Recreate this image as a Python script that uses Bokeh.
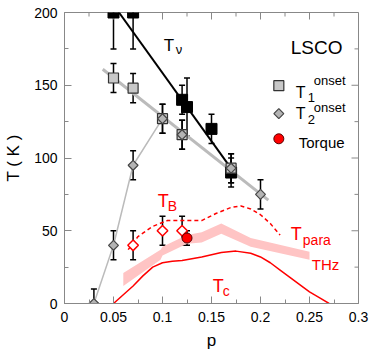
from bokeh.plotting import figure
from bokeh.models import (ColumnDataSource, Whisker, TeeHead, FixedTicker, Label)
from bokeh.embed import file_html
from bokeh.resources import INLINE

# ---- data ----
tnu_p = [0.05, 0.07, 0.12, 0.125, 0.15, 0.17]
tnu_T = [200, 200, 140, 135, 120, 90]
tnu_err = [25, 25, 10, 20, 10, 10]
tnu_fit_p = [0.0556, 0.172]
tnu_fit_T = [200, 91]

t1_p = [0.05, 0.07, 0.10, 0.12, 0.17]
t1_T = [155, 148, 127, 116, 93]
t1_err = [10, 10, 10, 10, 10]
t1_fit_p = [0.039, 0.208]
t1_fit_T = [161, 71]

t2_p = [0.03, 0.05, 0.07, 0.10, 0.12, 0.17, 0.20]
t2_T = [0, 40, 95, 127, 116, 93, 75]
t2_err = [10, 10, 10, 10, 10, 10, 10]
t2_line_p = [0.03, 0.05, 0.07, 0.10]
t2_line_T = [0, 40, 95, 127]

tb_p = [0.07, 0.10, 0.12]
tb_T = [40, 50, 50]
tb_err = [10, 10, 10]

torque_p = [0.125]
torque_T = [45]
torque_err = [5]

tpara_p = [0.065, 0.075, 0.09, 0.105, 0.12, 0.14, 0.155, 0.17, 0.18, 0.19, 0.2, 0.21, 0.22]
tpara_T = [37, 46, 53, 57, 57, 57, 62, 66, 67, 65, 61, 55, 47]

thz_p = [0.06, 0.098, 0.10, 0.125, 0.14, 0.16, 0.19, 0.25]
thz_hi = [21, 37, 39, 47, 49, 55, 45, 35.5]
thz_lo = [12, 30, 33, 41, 42, 48, 39, 30]

tc_p = [0.05, 0.06, 0.07, 0.08, 0.09, 0.10, 0.11, 0.12, 0.14, 0.16, 0.175, 0.19, 0.20, 0.21, 0.22, 0.23, 0.24, 0.25, 0.26, 0.27]
tc_T = [0, 6, 12, 19, 25, 28, 29, 29.5, 32, 35, 36, 34.5, 32, 28, 23, 18, 13, 8, 4, 0]

x_ticks = [0, 0.05, 0.1, 0.15, 0.2, 0.25, 0.3]
x_labels = ["0", "0.05", "0.1", "0.15", "0.2", "0.25", "0.3"]
x_minor = [0.025, 0.075, 0.125, 0.175, 0.225, 0.275]
y_ticks = [0, 50, 100, 150, 200]
y_minor = [25, 75, 125, 175]

FONT = "Liberation Sans"
AX = "#888888"
X0, X1, Y0, Y1 = 0, 0.3, 0, 200

p = figure(width=374, height=359, x_range=(X0, X1), y_range=(Y0, Y1),
           output_backend="svg", toolbar_location=None,
           min_border_left=64, min_border_right=16, min_border_top=12, min_border_bottom=56)
p.xgrid.visible = False
p.ygrid.visible = False
p.outline_line_color = AX
p.background_fill_color = "white"
p.border_fill_color = "white"

xt = FixedTicker(ticks=x_ticks, minor_ticks=x_minor)
yt = FixedTicker(ticks=y_ticks, minor_ticks=y_minor)

for ax in (p.xaxis[0], p.yaxis[0]):
    ax.axis_line_color = AX
    ax.major_tick_line_color = AX
    ax.minor_tick_line_color = AX
    ax.major_tick_in = 7
    ax.major_tick_out = 0
    ax.minor_tick_in = 4
    ax.minor_tick_out = 0
    ax.major_label_text_font = FONT
    ax.major_label_text_color = "black"
    ax.major_label_text_font_size = "14px"
    ax.axis_label_text_font = FONT
    ax.axis_label_text_font_size = "17px"
    ax.axis_label_text_font_style = "normal"
    ax.axis_label_text_color = "black"

p.xaxis.ticker = xt
p.yaxis.ticker = yt
p.xaxis.major_label_overrides = {t: l for t, l in zip(x_ticks, x_labels)}
p.xaxis.major_label_standoff = 8
p.yaxis.major_label_standoff = 7
p.xaxis.axis_label = "p"
p.yaxis.axis_label = "T ( K )"
p.xaxis.axis_label_standoff = 6
p.yaxis.axis_label_standoff = 8

# mirrored inward ticks on top and right edges
fw, fh = 294.0, 290.5
mx = 7 * (X1 - X0) / fh * fh / fw  # 7 px in x data units
my = 7 * (Y1 - Y0) / fh
p.segment(x0=x_ticks, y0=[Y1] * len(x_ticks), x1=x_ticks, y1=[Y1 - my] * len(x_ticks), line_color=AX, line_width=1)
p.segment(x0=x_minor, y0=[Y1] * len(x_minor), x1=x_minor, y1=[Y1 - my * 4 / 7] * len(x_minor), line_color=AX, line_width=1)
p.segment(x0=[X1] * len(y_ticks), y0=y_ticks, x1=[X1 - mx] * len(y_ticks), y1=y_ticks, line_color=AX, line_width=1)
p.segment(x0=[X1] * len(y_minor), y0=y_minor, x1=[X1 - mx * 4 / 7] * len(y_minor), y1=y_minor, line_color=AX, line_width=1)

RED = "#ff0000"

# THz band
p.varea(x=thz_p, y1=thz_lo, y2=thz_hi, fill_color="#ffc4c4", fill_alpha=1.0)
# Tc
p.line(tc_p, tc_T, line_color=RED, line_width=1.5)
# Tpara dashed
p.line(tpara_p, tpara_T, line_color=RED, line_width=1.5, line_dash="4 3")

# fit lines
p.line(t1_fit_p, t1_fit_T, line_color="#bbbbbb", line_width=3)
p.line(t2_line_p, t2_line_T, line_color="#bbbbbb", line_width=1.5)
p.line(tnu_fit_p, tnu_fit_T, line_color="black", line_width=2)


def whisk(px, py, err):
    src = ColumnDataSource(dict(x=px, lo=[a - b for a, b in zip(py, err)], hi=[a + b for a, b in zip(py, err)]))
    w = Whisker(base="x", lower="lo", upper="hi", source=src, dimension="height",
                line_color="black", line_width=1.5,
                upper_head=TeeHead(size=6, line_color="black", line_width=1.5),
                lower_head=TeeHead(size=6, line_color="black", line_width=1.5))
    p.add_layout(w)


whisk(tnu_p, tnu_T, tnu_err)
whisk(t1_p, t1_T, t1_err)
whisk(t2_p, t2_T, t2_err)
whisk(tb_p, tb_T, tb_err)
whisk(torque_p, torque_T, torque_err)

# markers
p.scatter(tnu_p, tnu_T, marker="square", size=11, fill_color="black", line_color="black")
p.scatter(t1_p, t1_T, marker="square", size=10, fill_color="#c8c8c8", line_color="#333333", line_width=1.2)
p.scatter(t2_p, t2_T, marker="square", size=7, angle=0.785398, fill_color="#b4b4b4", line_color="#444444", line_width=1.2)
p.scatter(tb_p, tb_T, marker="square", size=7.5, angle=0.785398, fill_color="white", line_color=RED, line_width=1.5)
p.scatter(torque_p, torque_T, marker="circle", size=10, fill_color=RED, line_color="#550000", line_width=1)

# legend markers (manual)
p.scatter([0.2187], [149.7], marker="square", size=10, fill_color="#c8c8c8", line_color="#333333", line_width=1.2)
p.scatter([0.2187], [130.5], marker="square", size=7, angle=0.785398, fill_color="#b4b4b4", line_color="#444444", line_width=1.2)
p.scatter([0.2187], [113.2], marker="circle", size=10, fill_color=RED, line_color="#550000", line_width=1)


def lab(x, y, text, size, color="black"):
    p.add_layout(Label(x=x, y=y, text=text, text_font=FONT, text_font_size=size,
                       text_color=color, text_align="left", text_baseline="alphabetic"))


lab(0.2309, 175.9, "LSCO", "19px")
lab(0.2359, 145.1, "T", "16px")
lab(0.2483, 141.5, "1", "13px")
lab(0.2544, 153.2, "onset", "13px")
lab(0.2359, 130.7, "T", "16px")
lab(0.2483, 126.8, "2", "13px")
lab(0.2544, 134.8, "onset", "13px")
lab(0.239, 110.7, "Torque", "15px")

lab(0.1013, 177.3, "T", "17px")
lab(0.1136, 174.3, "\u03bd", "13px")

lab(0.0952, 70.6, "T", "18px", RED)
lab(0.1054, 67.1, "B", "14px", RED)
lab(0.2309, 47.8, "T", "18px", RED)
lab(0.2432, 43.7, "para", "14px", RED)
lab(0.2523, 26.5, "THz", "15px", RED)
lab(0.1513, 12.0, "T", "18px", RED)
lab(0.1615, 8.6, "c", "14px", RED)

open("out.html", "w").write(file_html(p, INLINE))
